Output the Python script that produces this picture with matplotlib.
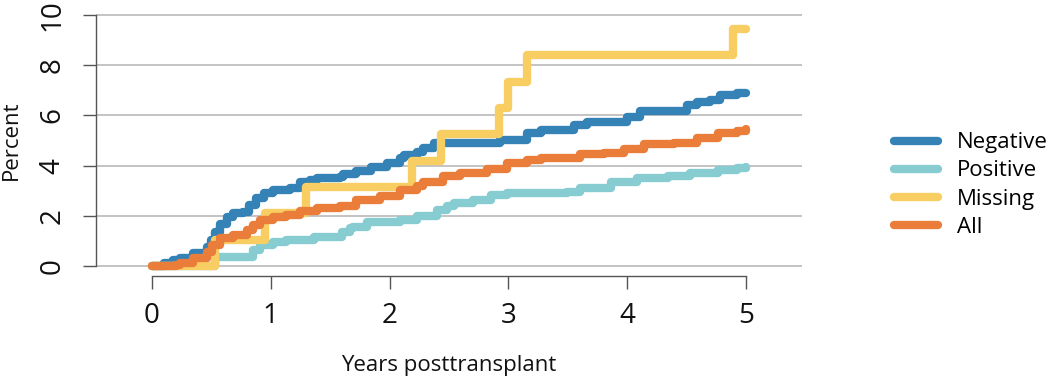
import matplotlib
matplotlib.use("Agg")
import matplotlib.pyplot as plt

plt.rcParams['font.family'] = ['Open Sans', 'DejaVu Sans']

# ---- data ----
neg_t = [0, 0.10, 0.18, 0.24, 0.35, 0.46, 0.50, 0.53, 0.57, 0.63, 0.68, 0.77, 0.82, 0.88,
         0.94, 1.02, 1.16, 1.25, 1.33, 1.39, 1.58, 1.61, 1.72, 1.84, 1.98, 2.09, 2.12,
         2.23, 2.28, 2.37, 2.82, 2.93, 3.16, 3.27, 3.55, 3.66, 4.00, 4.11, 4.50, 4.59,
         4.70, 4.78, 4.92, 5.00]
neg_v = [0, 0.10, 0.24, 0.30, 0.50, 0.77, 1.04, 1.37, 1.67, 1.96, 2.10, 2.15, 2.43, 2.70,
         2.90, 3.03, 3.10, 3.36, 3.43, 3.50, 3.56, 3.66, 3.80, 3.96, 4.12, 4.29, 4.42,
         4.55, 4.70, 4.90, 4.90, 5.02, 5.30, 5.42, 5.62, 5.75, 5.95, 6.19, 6.41, 6.55,
         6.60, 6.81, 6.88, 6.90]

pos_t = [0, 0.53, 0.85, 0.91, 1.02, 1.13, 1.36, 1.60, 1.67, 1.69, 1.81, 2.09, 2.23, 2.40,
         2.48, 2.54, 2.70, 2.85, 2.99, 3.49, 3.60, 3.86, 4.08, 4.34, 4.53, 4.76, 4.92, 5.00]
pos_v = [0, 0.35, 0.64, 0.84, 0.97, 1.05, 1.15, 1.35, 1.50, 1.56, 1.76, 1.85, 2.00, 2.23,
         2.40, 2.50, 2.63, 2.83, 2.90, 2.96, 3.10, 3.36, 3.50, 3.60, 3.69, 3.82, 3.89, 3.96]

mis_t = [0, 0.53, 0.95, 1.30, 2.19, 2.43, 2.92, 3.00, 3.16, 4.89, 5.00]
mis_v = [0, 1.05, 2.10, 3.15, 4.20, 5.25, 6.30, 7.35, 8.40, 9.45, 9.45]

all_t = [0, 0.20, 0.24, 0.35, 0.46, 0.51, 0.57, 0.68, 0.80, 0.85, 0.91, 1.02, 1.13, 1.25,
         1.39, 1.58, 1.72, 1.92, 2.09, 2.23, 2.28, 2.45, 2.59, 2.82, 2.99, 3.16, 3.27,
         3.60, 3.80, 3.97, 4.14, 4.39, 4.59, 4.76, 4.92, 5.00]
all_v = [0, 0.05, 0.13, 0.31, 0.57, 0.84, 1.10, 1.24, 1.43, 1.63, 1.83, 1.96, 2.03, 2.20,
         2.30, 2.37, 2.63, 2.80, 3.03, 3.20, 3.36, 3.60, 3.69, 3.85, 4.09, 4.22, 4.29,
         4.46, 4.50, 4.65, 4.86, 4.91, 5.08, 5.28, 5.38, 5.44]

labels = ["Negative", "Positive", "Missing", "All"]
colors = ["#3582B6", "#86CCD1", "#F8CD62", "#EB7D3B"]
x_ticks = [0, 1, 2, 3, 4, 5]
y_ticks = [0, 2, 4, 6, 8, 10]

# ---- figure ----
W, H = 1050, 378
fig = plt.figure(figsize=(W / 100, H / 100), dpi=100)
ax = fig.add_axes([96 / W, 102 / H, (802 - 96) / W, (276 - 5) / H])
ax.set_xlim(-0.47, 5.47)
ax.set_ylim(-0.4, 10.4)

for yv in y_ticks:
    ax.axhline(yv, color="#BEBEBE", lw=1.3, zorder=0)

series = [(neg_t, neg_v), (pos_t, pos_v), (mis_t, mis_v), (all_t, all_v)]
for (t, v), lab, c in zip(series, labels, colors):
    ax.step(t, v, where="post", color=c, lw=6.0, label=lab,
            solid_joinstyle="round", solid_capstyle="round")

for s in ["top", "right"]:
    ax.spines[s].set_visible(False)
ax.spines["left"].set_bounds(0, 10)
ax.spines["bottom"].set_bounds(0, 5)
for s in ["left", "bottom"]:
    ax.spines[s].set_color("#555555")
    ax.spines[s].set_linewidth(1.0)

ax.set_xticks(x_ticks)
ax.set_yticks(y_ticks)
ax.set_xticklabels([str(v) for v in x_ticks], fontsize=20, color="#111111")
ax.set_yticklabels([str(v) for v in y_ticks], fontsize=20, color="#111111",
                   rotation=90, va="center")
ax.tick_params(axis="both", direction="out", length=9.5, width=1.0, color="#555555")
ax.tick_params(axis="x", pad=9)
ax.tick_params(axis="y", pad=12)

fig.text(449 / W, 1 - 365 / H, "Years posttransplant", fontsize=16,
         ha="center", va="center", color="#111111")
fig.text(11 / W, 1 - 140 / H, "Percent", fontsize=16, rotation=90,
         ha="center", va="center", color="#111111")

leg = fig.legend(loc="center left", bbox_to_anchor=(894 / W, 1 - 185 / H),
                 frameon=False, fontsize=16, handlelength=2.0, handletextpad=0.85,
                 labelspacing=0.32, borderpad=0, borderaxespad=0)
for h in leg.get_lines():
    h.set_linewidth(6.0)
    h.set_solid_capstyle("round")

fig.savefig("out.png", dpi=100)
